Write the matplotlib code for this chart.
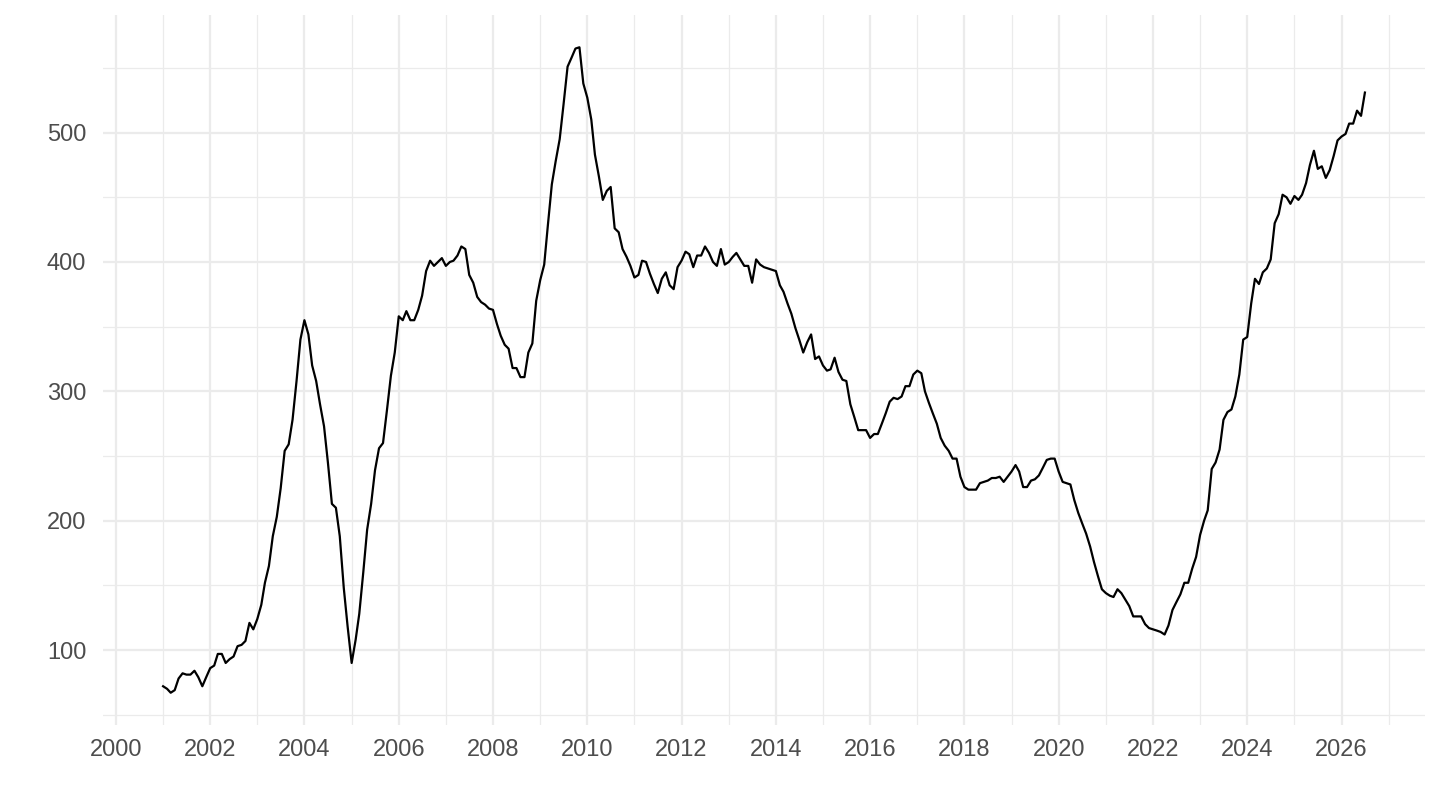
import numpy as np
import pandas as pd
import matplotlib
matplotlib.use("Agg")
import matplotlib.pyplot as plt
import matplotlib.dates as mdates
from matplotlib.ticker import MultipleLocator

plt.rcParams['font.family'] = ['Liberation Sans', 'DejaVu Sans']

# --- monthly values, Jan 2001 .. Jul 2026 ---
v2001 = [72, 70, 67, 69, 78, 82, 81, 81, 84, 79, 72, 79]
v2002 = [86, 88, 97, 97, 90, 93, 95, 103, 104, 107, 121, 116]
v2003 = [124, 135, 152, 165, 188, 203, 225, 254, 259, 278, 308, 340]
v2004 = [355, 344, 320, 308, 290, 273, 245, 213, 210, 188, 148, 118]
v2005 = [90, 108, 128, 160, 193, 213, 239, 256, 260, 285, 312, 330]
v2006 = [358, 355, 362, 355, 355, 363, 374, 393, 401, 397, 400, 403]
v2007 = [397, 400, 401, 405, 412, 410, 390, 384, 373, 369, 367, 364]
v2008 = [363, 352, 343, 336, 333, 318, 318, 311, 311, 330, 337, 370]
v2009 = [386, 398, 428, 460, 478, 495, 522, 551, 558, 565, 566, 538]
v2010 = [527, 510, 483, 466, 448, 455, 458, 426, 423, 410, 404, 397]
v2011 = [388, 390, 401, 400, 391, 383, 376, 387, 392, 382, 379, 396]
v2012 = [401, 408, 406, 396, 405, 405, 412, 407, 400, 397, 410, 398]
v2013 = [400, 404, 407, 402, 397, 397, 384, 402, 398, 396, 395, 394]
v2014 = [393, 382, 377, 368, 360, 349, 340, 330, 338, 344, 325, 327]
v2015 = [320, 316, 317, 326, 315, 309, 308, 290, 280, 270, 270, 270]
v2016 = [264, 267, 267, 275, 283, 292, 295, 294, 296, 304, 304, 313]
v2017 = [316, 314, 300, 291, 283, 275, 264, 258, 254, 248, 248, 234]
v2018 = [226, 224, 224, 224, 229, 230, 231, 233, 233, 234, 230, 234]
v2019 = [238, 243, 238, 226, 226, 231, 232, 235, 241, 247, 248, 248]
v2020 = [238, 230, 229, 228, 216, 206, 198, 190, 180, 168, 157, 147]
v2021 = [144, 142, 141, 147, 144, 139, 134, 126, 126, 126, 120, 117]
v2022 = [116, 115, 114, 112, 119, 131, 137, 143, 152, 152, 163, 172]
v2023 = [189, 200, 208, 240, 245, 255, 278, 284, 286, 296, 313, 340]
v2024 = [342, 368, 387, 383, 392, 395, 402, 430, 437, 452, 450, 445]
v2025 = [451, 448, 452, 461, 475, 486, 472, 474, 465, 471, 482, 494]
v2026 = [497, 499, 507, 507, 517, 513, 531]

values = (v2001 + v2002 + v2003 + v2004 + v2005 + v2006 + v2007 + v2008
          + v2009 + v2010 + v2011 + v2012 + v2013 + v2014 + v2015 + v2016
          + v2017 + v2018 + v2019 + v2020 + v2021 + v2022 + v2023 + v2024
          + v2025 + v2026)
dates = pd.date_range("2001-01-01", periods=len(values), freq="MS")

fig = plt.figure(figsize=(14.4, 8.1), dpi=100)
ax = fig.add_axes([103 / 1440, 1 - 725 / 810, 1322 / 1440, 710 / 810])

ax.plot(dates, values, color="black", linewidth=1.6)
ax.margins(x=0.05, y=0.05)

# ggplot theme_minimal look
ax.xaxis.set_major_locator(mdates.YearLocator(2))
ax.xaxis.set_minor_locator(mdates.YearLocator(1))
ax.xaxis.set_major_formatter(mdates.DateFormatter("%Y"))
ax.yaxis.set_major_locator(MultipleLocator(100))
ax.yaxis.set_minor_locator(MultipleLocator(50))

ax.grid(which="major", color="#EBEBEB", linewidth=1.6)
ax.grid(which="minor", color="#EBEBEB", linewidth=0.9)
ax.set_axisbelow(True)
for s in ax.spines.values():
    s.set_visible(False)
ax.tick_params(which="both", length=0, labelsize=17, labelcolor="#4D4D4D")
ax.tick_params(axis="x", pad=10)
ax.tick_params(axis="y", pad=12)

fig.savefig("out.png", dpi=100, facecolor="white")
